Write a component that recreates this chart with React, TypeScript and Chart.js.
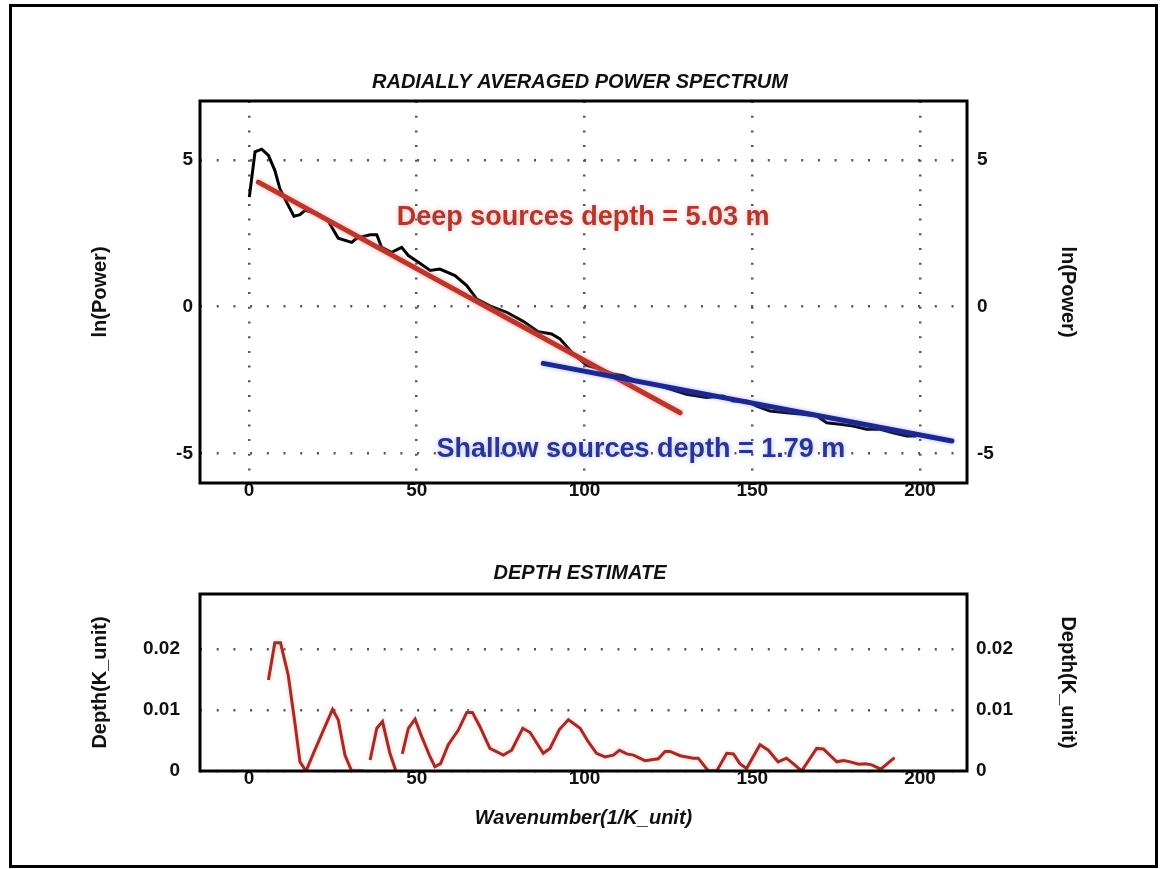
import React, { useEffect, useRef } from "react";
import { Chart, registerables } from "chart.js";

Chart.register(...registerables);

// ---------- data ----------
const spectrumX = [0.1, 1.8, 3.8, 5.8, 7.7, 9.2, 11.2, 13.4, 15.2, 16.7, 20.2, 23.7, 26.6, 30.6, 32.1, 36.1, 38.1, 39.5, 42.5, 45.5, 47.5, 50.5, 54, 56.9, 61.4, 64.9, 67.9, 71.8, 76.8, 81.7, 86.2, 90.2, 92.7, 96.6, 100.7, 104.6, 108.5, 111.5, 115.6, 120.4, 125.5, 130.4, 136.4, 141.3, 144.3, 148.3, 151.3, 155.3, 160.3, 164.3, 169.2, 172.2, 176.2, 180.1, 184.1, 188.1, 192, 196, 199];
const spectrumY = [3.73, 5.27, 5.36, 5.15, 4.64, 4.02, 3.56, 3.08, 3.13, 3.28, 3.18, 2.9, 2.33, 2.19, 2.33, 2.45, 2.45, 2.02, 1.85, 2.02, 1.74, 1.51, 1.23, 1.28, 1.06, 0.72, 0.26, 0.03, -0.19, -0.5, -0.85, -0.93, -1.1, -1.6, -2.0, -2.12, -2.29, -2.35, -2.53, -2.63, -2.8, -2.98, -3.09, -3.04, -3.21, -3.21, -3.38, -3.55, -3.61, -3.65, -3.72, -3.95, -4.0, -4.06, -4.17, -4.17, -4.29, -4.4, -4.4];

const deepFitX = [2.8, 128.5];
const deepFitY = [4.24, -3.61];
const shallowFitX = [87.7, 209.5];
const shallowFitY = [-1.93, -4.57];

const depthX = [5.8, 7.7, 9.4, 11.7, 13.7, 15.2, 17, 19.2, 22.2, 24.9, 26.6, 28.6, 30.6, 34.1, 35, 36.1, 38.1, 39.8, 42, 43.8, 44.7, 45.7, 47.5, 49.5, 51.5, 54, 55.4, 57.1, 59.4, 62.4, 64.9, 66.6, 68.8, 71.8, 75.8, 78.3, 81.6, 83.8, 87.7, 89.7, 92.5, 95.2, 98.7, 101.1, 103.6, 106.1, 108.6, 110.4, 112.6, 114.6, 118, 122, 124, 125.5, 128.5, 132.4, 133.9, 136.9, 139.4, 142.4, 144.4, 146.3, 148.3, 152.3, 154.8, 157.7, 160.2, 162.2, 164.7, 169.2, 171.2, 175.2, 177.2, 179.2, 181.7, 183.7, 185.6, 188.3, 192.4];
const depthY = [0.0149, 0.021, 0.021, 0.0157, 0.0078, 0.0015, 0, 0.0029, 0.0067, 0.0101, 0.0084, 0.0026, 0, 0, null, 0.0018, 0.007, 0.0081, 0.0029, 0, null, 0.0028, 0.007, 0.0085, 0.0056, 0.0023, 0.0007, 0.0012, 0.0043, 0.0067, 0.0096, 0.0096, 0.0073, 0.0037, 0.0026, 0.0034, 0.007, 0.0063, 0.0029, 0.0037, 0.0068, 0.0084, 0.007, 0.0048, 0.0029, 0.0023, 0.0026, 0.0034, 0.0028, 0.0026, 0.0017, 0.002, 0.0032, 0.0032, 0.0025, 0.0021, 0.0021, 0, 0, 0.0029, 0.0028, 0.0012, 0.0004, 0.0043, 0.0034, 0.0015, 0.0021, 0.0012, 0, 0.0037, 0.0036, 0.0015, 0.0017, 0.0015, 0.0011, 0.0012, 0.001, 0.0003, 0.0022];

const xTicks = [0, 50, 100, 150, 200];
const powerTicks = [-5, 0, 5];
const depthTicks = [0, 0.01, 0.02];

const deepLabel = "Deep sources depth = 5.03 m";
const shallowLabel = "Shallow sources depth = 1.79 m";

// ---------- helpers ----------
const FONT = "'Liberation Sans', Arial, sans-serif";
const pts = (xs: number[], ys: (number | null)[]) => xs.map((x, i) => ({ x, y: ys[i] }));
const fixTicks = (vals: number[]) => (s: any) => {
  s.ticks = vals.map((v) => ({ value: v }));
};

const boxPlugin = {
  id: "boxPlugin",
  afterDraw(chart: any) {
    const { ctx, chartArea: a } = chart;
    ctx.save();
    ctx.strokeStyle = "#000";
    ctx.lineWidth = 3;
    ctx.strokeRect(a.left, a.top, a.right - a.left, a.bottom - a.top);
    ctx.restore();
  },
};

const glowPlugin = {
  id: "glowPlugin",
  beforeDatasetDraw(chart: any, args: any) {
    const ds = chart.data.datasets[args.index];
    const ctx = chart.ctx;
    ctx.save();
    if (ds.glow) {
      ctx.shadowColor = ds.glow;
      ctx.shadowBlur = 4;
    }
  },
  afterDatasetDraw(chart: any) {
    chart.ctx.restore();
  },
};

const labelPlugin = {
  id: "labelPlugin",
  afterDatasetsDraw(chart: any, _args: any, opts: any) {
    const { ctx, scales } = chart;
    (opts.items || []).forEach((it: any) => {
      const px = scales.x.getPixelForValue(it.x);
      const py = scales.y.getPixelForValue(it.y);
      ctx.save();
      ctx.font = `bold 27px ${FONT}`;
      ctx.textAlign = "center";
      ctx.textBaseline = "alphabetic";
      ctx.shadowColor = it.glow;
      ctx.shadowBlur = 5;
      ctx.fillStyle = it.color;
      ctx.fillText(it.text, px, py);
      ctx.restore();
    });
  },
};

const tickFont = { family: FONT, size: 19, weight: "bold" as const };
const titleFont = { family: FONT, size: 20, weight: "bold" as const };

function makeYAxes(min: number, max: number, ticks: number[], leftPad: number, rightPad: number, title: string, dashGrid: boolean) {
  return {
    y: {
      type: "linear",
      position: "left",
      min,
      max,
      afterBuildTicks: fixTicks(ticks),
      afterFit: (s: any) => {
        s.width = 200;
      },
      grid: { display: dashGrid, color: "#555", lineWidth: 2.5, drawTicks: false },
      border: { display: false, dash: [2, 14.7] },
      ticks: { font: tickFont, color: "#111", padding: leftPad },
      title: { display: true, text: title, font: titleFont, color: "#111", padding: { top: 88, bottom: 0 } },
    },
    y2: {
      type: "linear",
      position: "right",
      min,
      max,
      afterBuildTicks: fixTicks(ticks),
      afterFit: (s: any) => {
        s.width = 193;
      },
      grid: { display: false, drawTicks: false },
      border: { display: false },
      ticks: { font: tickFont, color: "#111", padding: rightPad },
      title: { display: true, text: title, font: titleFont, color: "#111", padding: { top: 80, bottom: 0 } },
    },
  };
}

function PowerChart() {
  const ref = useRef<HTMLCanvasElement>(null);
  useEffect(() => {
    const chart = new Chart(ref.current!, {
      type: "line",
      data: {
        datasets: [
          {
            data: pts(spectrumX, spectrumY),
            borderColor: "#000",
            borderWidth: 3,
            pointRadius: 0,
            tension: 0,
            order: 3,
          },
          {
            data: pts(deepFitX, deepFitY),
            borderColor: "#b9372c",
            borderWidth: 5,
            borderCapStyle: "round",
            pointRadius: 0,
            order: 2,
            glow: "rgba(255,120,120,0.7)",
          } as any,
          {
            data: pts(shallowFitX, shallowFitY),
            borderColor: "#1c2790",
            borderWidth: 5,
            borderCapStyle: "round",
            pointRadius: 0,
            order: 1,
            glow: "rgba(120,130,255,0.6)",
          } as any,
        ],
      },
      options: {
        animation: false,
        responsive: false,
        parsing: false as any,
        layout: { padding: 0 },
        plugins: {
          legend: { display: false },
          tooltip: { enabled: false },
          title: {
            display: true,
            text: "RADIALLY AVERAGED POWER SPECTRUM",
            font: { family: FONT, size: 20, weight: "bold", style: "italic" },
            color: "#111",
            padding: { top: 70, bottom: 7 },
          },
          labelPlugin: {
            items: [
              { text: deepLabel, x: 99.6, y: 2.79, color: "#ab3a31", glow: "rgba(255,140,140,0.7)" },
              { text: shallowLabel, x: 116.8, y: -5.12, color: "#2a3590", glow: "rgba(150,160,255,0.7)" },
            ],
          },
        } as any,
        scales: {
          x: {
            type: "linear",
            position: "bottom",
            min: -14.6,
            max: 214,
            afterBuildTicks: fixTicks(xTicks),
            afterFit: (s: any) => {
              s.height = 37;
            },
            grid: { color: "#555", lineWidth: 2.5, drawTicks: false },
            border: { display: false, dash: [2, 12.7] },
            ticks: { font: tickFont, color: "#111", padding: -4, maxRotation: 0 },
          },
          ...makeYAxes(-6, 7, powerTicks, 7, 10, "ln(Power)", true),
        } as any,
      },
      plugins: [glowPlugin, labelPlugin, boxPlugin],
    });
    return () => chart.destroy();
  }, []);
  return <canvas ref={ref} width={1160} height={520} style={{ position: "absolute", left: 0, top: 0, width: 1160, height: 520 }} />;
}

function DepthChart() {
  const ref = useRef<HTMLCanvasElement>(null);
  useEffect(() => {
    const chart = new Chart(ref.current!, {
      type: "line",
      data: {
        datasets: [
          {
            data: pts(depthX, depthY),
            borderColor: "#9e2e28",
            borderWidth: 3,
            pointRadius: 0,
            tension: 0,
            spanGaps: false,
            glow: "rgba(255,150,150,0.6)",
          } as any,
        ],
      },
      options: {
        animation: false,
        responsive: false,
        parsing: false as any,
        layout: { padding: 0 },
        plugins: {
          legend: { display: false },
          tooltip: { enabled: false },
          title: {
            display: true,
            text: "DEPTH ESTIMATE",
            font: { family: FONT, size: 20, weight: "bold", style: "italic" },
            color: "#111",
            padding: { top: 41, bottom: 9 },
          },
        } as any,
        scales: {
          x: {
            type: "linear",
            position: "bottom",
            min: -14.6,
            max: 214,
            afterBuildTicks: fixTicks(xTicks),
            afterFit: (s: any) => {
              s.height = 98;
            },
            grid: { display: false, drawTicks: false },
            border: { display: false },
            ticks: { font: tickFont, color: "#111", padding: -4, maxRotation: 0 },
            title: {
              display: true,
              text: "Wavenumber(1/K_unit)",
              font: { family: FONT, size: 20, weight: "bold", style: "italic" },
              color: "#111",
              padding: { top: 0, bottom: 39 },
            },
          },
          ...makeYAxes(0, 0.029, depthTicks, 20, 9, "Depth(K_unit)", true),
        } as any,
      },
      plugins: [glowPlugin, boxPlugin],
    });
    return () => chart.destroy();
  }, []);
  return <canvas ref={ref} width={1160} height={349} style={{ position: "absolute", left: 0, top: 520, width: 1160, height: 349 }} />;
}

export default function App() {
  useEffect(() => {
    document.body.style.margin = "0";
  }, []);
  return (
    <div style={{ position: "absolute", left: 0, top: 0, width: 1160, height: 869, background: "#fff", overflow: "hidden" }}>
      <div
        style={{
          position: "absolute",
          left: 9,
          top: 4,
          width: 1149,
          height: 864,
          border: "3px solid #000",
          boxSizing: "border-box",
        }}
      />
      <PowerChart />
      <DepthChart />
    </div>
  );
}
